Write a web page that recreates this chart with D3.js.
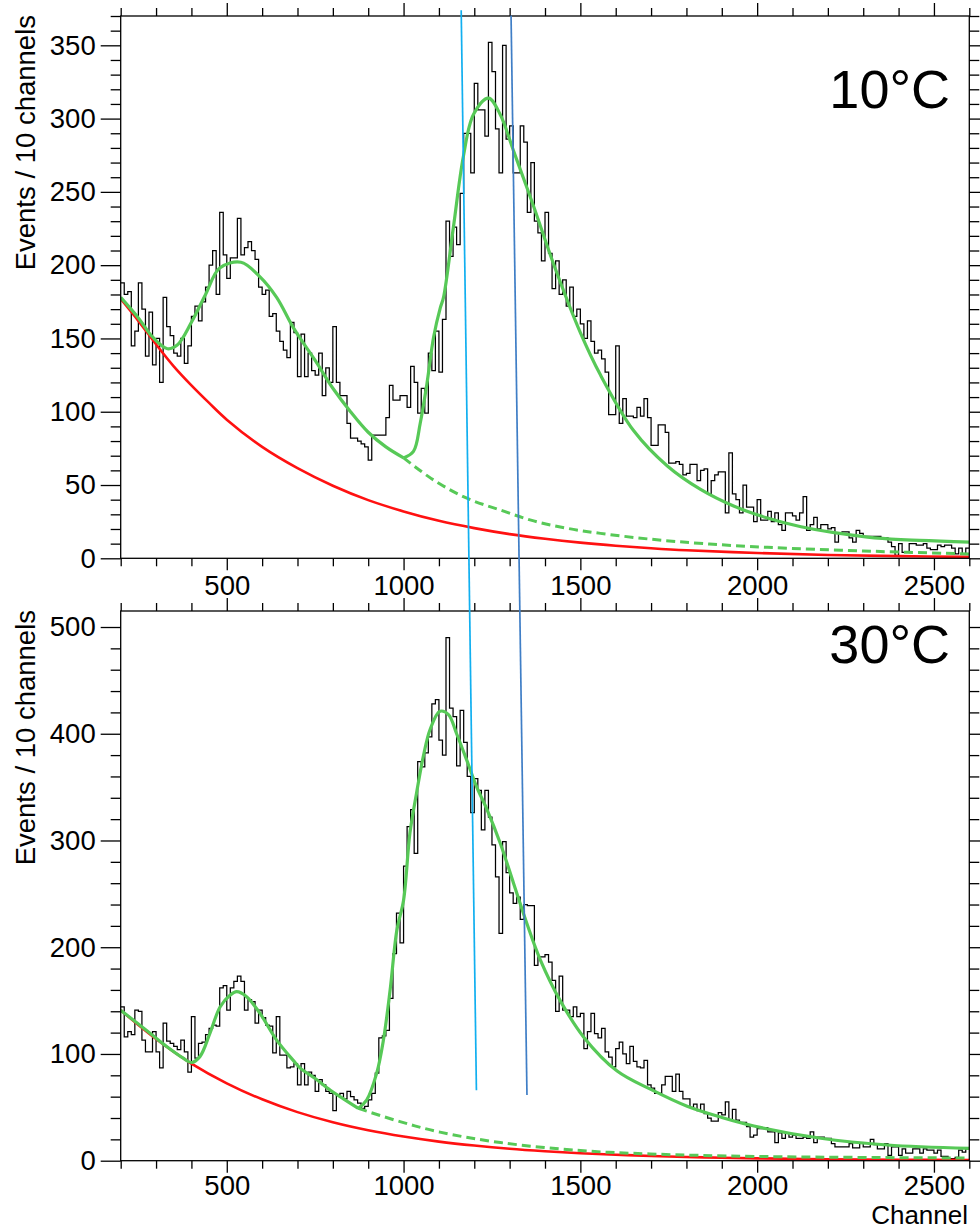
<!DOCTYPE html>
<html><head><meta charset="utf-8">
<script src="https://cdn.jsdelivr.net/npm/d3@7"></script>
<style>
body{margin:0;background:#fff}
svg{display:block}
text{font-family:"Liberation Sans",Arial,Helvetica,sans-serif;fill:#000}
</style>
</head><body>
<svg id="c" width="980" height="1229"></svg>
<script>
// ---------------- DATA ----------------
const channelRange = [200, 2600];
const binStart = 200, binWidth = 10;
const xMajorTicks = [500, 1000, 1500, 2000, 2500];
const yTicksTop = [0, 50, 100, 150, 200, 250, 300, 350];
const yTicksBottom = [0, 100, 200, 300, 400, 500];
const panelLabels = ["10°C", "30°C"];
const xTitle = "Channel";
const yTitle = "Events / 10 channels";

// histogram counts, 10-channel bins from 200 to 2600 (10 °C)
const countsTop = [
188,180,182,145,155,188,170,138,168,132,
150,120,178,158,152,140,138,150,133,145,
165,172,162,175,185,200,210,180,236,207,
191,205,205,232,207,212,216,210,204,185,
180,183,165,167,155,148,142,137,161,154,
124,153,124,140,128,125,140,111,130,120,
158,120,111,111,92,82,82,80,78,76,
67,84,84,84,84,96,118,108,108,111,
111,103,131,120,99,116,99,140,128,155,
127,163,230,206,226,214,249,290,290,263,
324,306,306,288,352,332,293,263,350,286,
295,263,263,295,284,236,270,230,222,203,
236,208,184,203,180,190,172,185,165,170,
160,150,162,148,140,142,136,127,98,98,
145,92,109,97,97,96,103,97,109,96,
77,77,91,91,86,65,65,66,64,57,
58,64,64,53,60,61,44,53,57,59,
59,31,72,44,40,31,50,35,35,25,
40,26,26,32,25,31,23,19,31,31,
29,26,31,42,19,23,28,20,23,23,
20,21,11,17,18,18,14,11,19,17,
15,15,15,15,15,14,14,11,8,2,
10,4,4,10,10,9,9,10,7,6,
6,9,8,9,9,7,3,7,3,7
];
// histogram counts (30 °C)
const countsBottom = [
144,116,121,118,141,140,113,102,102,121,
102,87,129,112,110,107,104,113,102,83,
135,96,110,111,118,124,127,126,162,164,
141,162,168,173,168,141,151,149,129,141,
134,127,126,101,135,99,99,87,88,91,
71,91,71,83,80,65,76,71,65,63,
47,62,63,58,65,60,57,54,49,51,
57,63,82,115,117,122,152,194,232,204,
276,313,329,288,374,369,382,397,428,432,
394,380,490,424,416,370,422,392,360,326,
358,347,310,347,322,296,266,213,299,270,
251,241,247,226,240,239,239,183,191,191,
193,186,169,140,173,141,141,135,144,135,
138,105,121,138,119,115,124,102,97,88,
105,111,100,91,107,93,88,87,94,71,
68,63,63,71,79,79,65,81,65,58,
58,50,53,47,53,44,40,37,37,45,
43,55,38,48,38,36,36,32,22,24,
30,30,31,27,27,17,26,21,26,22,
24,21,21,22,21,27,17,22,22,21,
21,16,13,13,13,13,16,12,12,17,
13,13,20,15,11,11,16,5,13,13,
5,11,7,7,11,11,7,11,10,10,
7,10,4,4,2,2,3,10,8,11
];

// fitted curves: [channel, events]
const fitLowTop = [[200,178],[250,164],[290,151],[332,143],[360,145.5],[400,161],[440,180],[480,198],[540,202],[594,192],[641,178],[689,157],[750,135],[800,116],[850,100],[900,86],[950,76],[1000,68.5]];
const fitHighTop = [[1000,68.5],[1028,73],[1047,92],[1066,119],[1085,151],[1104,171],[1113,178],[1141,226],[1169,274],[1198,303],[1240,314],[1273,303],[1311,278],[1368,240],[1424,201],[1500,154],[1557,125],[1651,87],[1746,63],[1840,47],[1935,35.5],[2029,27.5],[2124,21.5],[2218,17.5],[2312,14.5],[2406,12.8],[2600,11]];
const fitExtTop = [[1000,68.5],[1085,53.4],[1179,41],[1273,33],[1368,25.5],[1462,20.5],[1557,17],[1700,13],[1850,10],[2029,7.5],[2300,5],[2600,3]];
const bgTop = [[200,177],[250,162],[300,146],[350,131],[400,118],[450,106],[500,94.6],[600,76],[700,61.5],[800,49.5],[900,39.7],[1000,32],[1100,25.6],[1200,20.6],[1300,16.5],[1400,13.3],[1500,10.7],[1600,8.6],[1700,6.9],[1800,5.5],[2000,3.6],[2200,2.3],[2400,1.5],[2600,1]];

const fitLowBottom = [[200,141],[283,119.4],[330,107],[377,96],[400,92],[424,97.5],[452,119],[481,144],[509,155],[528,158.4],[556,153.7],[594,138],[641,113],[688,94],[707,87],[750,77],[793,66],[830,58],[872,49]];
const fitHighBottom = [[872,49],[896,57],[924,82],[943,113],[962,160],[981,216],[1000,244],[1018,307],[1037,345],[1056,379],[1075,404],[1103,421],[1127,418],[1150,400],[1179,375],[1207,350],[1236,329],[1274,297],[1311,260],[1349,222],[1387,188],[1443,150],[1509,116],[1604,84],[1698,67],[1802,51],[1900,40.5],[1991,32.5],[2180,21],[2368,14.7],[2600,11.6]];
const fitExtBottom = [[872,49],[990,36.6],[1100,27],[1274,17],[1500,9.5],[1698,6.3],[2000,4],[2600,2.5]];
const bgBottom = [[200,141],[300,114],[400,91],[500,72.5],[600,57.5],[700,45.5],[800,36],[900,28.5],[1000,22.6],[1100,17.9],[1200,14.2],[1300,11.2],[1400,8.9],[1500,7],[1600,5.6],[1700,4.4],[1850,3.1],[2000,2.2],[2200,1.4],[2400,0.9],[2600,0.6]];

// two guide lines crossing both panels: start in top-panel units, end in bottom-panel units
const guideLines = [
  {chTop:1163, evTop:374, chBottom:1206, evBottom:66, color:"#11aff0"},
  {chTop:1304, evTop:370.4, chBottom:1349, evBottom:61.6, color:"#3f7ec6"}
];

// ---------------- DRAWING ----------------
const W = 980, H = 1229, L = 120.7, R = 969.3;
const FS = 27.5;
const svg = d3.select("#c");
svg.append("rect").attr("width", W).attr("height", H).attr("fill", "#fff");

const x = d3.scaleLinear().domain(channelRange).range([L, R]);

const panels = [
  {top:16, bottom:558.3, ymax:370, yMajor:yTicksTop, yMinorStep:10, counts:countsTop, xPad:5,
   low:fitLowTop, high:fitHighTop, ext:fitExtTop, bg:bgTop, label:panelLabels[0], labelY:108},
  {top:611, bottom:1160.7, ymax:515, yMajor:yTicksBottom, yMinorStep:20, counts:countsBottom, xPad:3,
   low:fitLowBottom, high:fitHighBottom, ext:fitExtBottom, bg:bgBottom, label:panelLabels[1], labelY:663}
];

const GREEN = "#57c957", RED = "#ff1111";

panels.forEach((p, k) => {
  const y = d3.scaleLinear().domain([0, p.ymax]).range([p.bottom, p.top]);
  p.y = y;
  const clipId = "clip" + k;
  svg.append("clipPath").attr("id", clipId).append("rect")
     .attr("x", L).attr("y", p.top).attr("width", R - L).attr("height", p.bottom - p.top);
  const g = svg.append("g");
  const plot = g.append("g").attr("clip-path", `url(#${clipId})`);

  // histogram
  const pts = p.counts.map((v, i) => [binStart + i * binWidth, v]);
  pts.push([binStart + p.counts.length * binWidth, p.counts[p.counts.length - 1]]);
  plot.append("path")
    .attr("d", d3.line().x(d => x(d[0])).y(d => y(d[1])).curve(d3.curveStepAfter)(pts))
    .attr("fill", "none").attr("stroke", "#000").attr("stroke-width", 1.25);

  const line = d3.line().x(d => x(d[0])).y(d => y(d[1])).curve(d3.curveCatmullRom.alpha(0.5));
  plot.append("path").attr("d", line(p.bg)).attr("fill", "none").attr("stroke", RED).attr("stroke-width", 2.6);
  plot.append("path").attr("d", line(p.ext)).attr("fill", "none").attr("stroke", GREEN).attr("stroke-width", 3)
      .attr("stroke-dasharray", "9,5");
  plot.append("path").attr("d", line(p.low)).attr("fill", "none").attr("stroke", GREEN).attr("stroke-width", 3.2);
  plot.append("path").attr("d", line(p.high)).attr("fill", "none").attr("stroke", GREEN).attr("stroke-width", 3.2);

  // frame
  g.append("rect").attr("x", L).attr("y", p.top).attr("width", R - L).attr("height", p.bottom - p.top)
    .attr("fill", "none").attr("stroke", "#000").attr("stroke-width", 1.3);

  const minorX = d3.range(200, 2601, 100).filter(v => !xMajorTicks.includes(v));
  const yMinor = d3.range(0, p.ymax + 0.1, p.yMinorStep).filter(v => !p.yMajor.includes(v));

  const style = sel => {
    sel.select(".domain").remove();
    sel.selectAll("line").attr("stroke", "#000").attr("stroke-width", 1.3);
    sel.selectAll("text").style("font-size", FS + "px").attr("fill", "#000");
  };
  // bottom
  g.append("g").attr("transform", `translate(0,${p.bottom})`)
    .call(d3.axisBottom(x).tickValues(minorX).tickSize(8).tickFormat("")).call(style);
  g.append("g").attr("transform", `translate(0,${p.bottom})`)
    .call(d3.axisBottom(x).tickValues(xMajorTicks).tickSize(12).tickPadding(p.xPad).tickFormat(d3.format("d"))).call(style);
  // top
  g.append("g").attr("transform", `translate(0,${p.top})`)
    .call(d3.axisTop(x).tickValues(minorX).tickSize(8).tickFormat("")).call(style);
  g.append("g").attr("transform", `translate(0,${p.top})`)
    .call(d3.axisTop(x).tickValues(xMajorTicks).tickSize(13).tickFormat("")).call(style);
  // left
  g.append("g").attr("transform", `translate(${L},0)`)
    .call(d3.axisLeft(y).tickValues(yMinor).tickSize(10).tickFormat("")).call(style);
  g.append("g").attr("transform", `translate(${L},0)`)
    .call(d3.axisLeft(y).tickValues(p.yMajor).tickSize(20).tickPadding(5).tickFormat(d3.format("d"))).call(style);
  // right
  g.append("g").attr("transform", `translate(${R},0)`)
    .call(d3.axisRight(y).tickValues(yMinor).tickSize(10).tickFormat("")).call(style);
  g.append("g").attr("transform", `translate(${R},0)`)
    .call(d3.axisRight(y).tickValues(p.yMajor).tickSize(20).tickFormat("")).call(style);

  // y title
  g.append("text").attr("transform", `translate(35,${p.top - 1}) rotate(-90)`)
    .attr("text-anchor", "end").style("font-size", FS + "px").text(yTitle);
  // temperature label
  g.append("text").attr("x", 950).attr("y", p.labelY).attr("text-anchor", "end")
    .style("font-size", "54px").text(p.label);
});

// x title
svg.append("text").attr("x", 968).attr("y", 1223.5).attr("text-anchor", "end")
  .style("font-size", "26px").text(xTitle);

// guide lines
const yT = panels[0].y, yB = panels[1].y;
svg.selectAll("line.guide").data(guideLines).enter().append("line").attr("class", "guide")
  .attr("x1", d => x(d.chTop)).attr("y1", d => yT(d.evTop))
  .attr("x2", d => x(d.chBottom)).attr("y2", d => yB(d.evBottom))
  .attr("stroke", d => d.color).attr("stroke-width", 1.7);
</script>
</body></html>
